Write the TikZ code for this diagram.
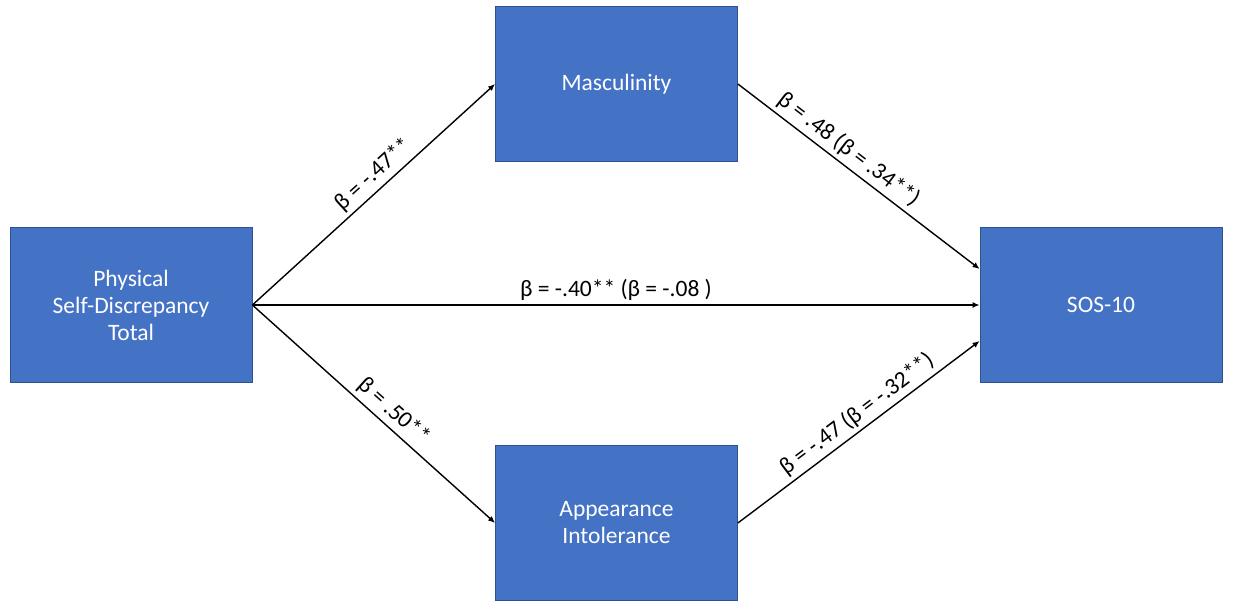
\documentclass[tikz,border=0pt]{standalone}
\usepackage{fontspec}
\setmainfont{Carlito}
\usepackage{tikz}
\usetikzlibrary{positioning}
\usetikzlibrary{calc}
\usetikzlibrary{arrows.meta}
\definecolor{office-blue}{HTML}{4472C4}
\definecolor{office-edge}{HTML}{2F528F}
\colorlet{varfill}{office-blue}
\colorlet{varedge}{office-edge}
\newcommand{\tikzvariable}[3]{%
\node[varbox] (#1) at (#2) {#3};
}
\newcommand{\tikzeffect}[4][0.5]{%
\draw[effect] (#2) -- (#3) node[pos=#1,above,sloped,effectlabel] {#4};
}

\begin{document}
\begin{tikzpicture}[x=1pt, y=1pt,
  varbox/.style={draw=varedge, fill=varfill, line width=0.8pt, text=white, align=center,
    minimum width=242pt, minimum height=155pt, inner sep=0pt, font=\fontsize{23.5}{27}\selectfont},
  effect/.style={line width=1.4pt, -{Latex[length=7pt,width=6pt]}},
  effectlabel/.style={font=\fontsize{23.5}{27}\selectfont, inner sep=2pt, above=2pt}]
\useasboundingbox (0,0) rectangle (1233,602);
% variables
\tikzvariable{phys}{131,297}{Physical\\Self-Discrepancy\\Total}
\tikzvariable{masc}{616.5,518}{Masculinity}
\tikzvariable{appear}{616.5,79}{Appearance\\Intolerance}
\tikzvariable{sos}{1101,297}{SOS-10}
\coordinate (sos-upper) at ($(sos.west)+(0,36)$);
\coordinate (sos-lower) at ($(sos.west)+(0,-36)$);
% paths
\tikzeffect[0.54]{phys.east}{masc.west}{β = -.47**}
\tikzeffect[0.54]{phys.east}{appear.west}{β = .50**}
\tikzeffect{phys.east}{sos.west}{β = -.40** (β = -.08 )}
\tikzeffect[0.42]{masc.east}{sos-upper}{β = .48 (β = .34**)}
\tikzeffect[0.53]{appear.east}{sos-lower}{β = -.47 (β = -.32**)}
\end{tikzpicture}
\end{document}
